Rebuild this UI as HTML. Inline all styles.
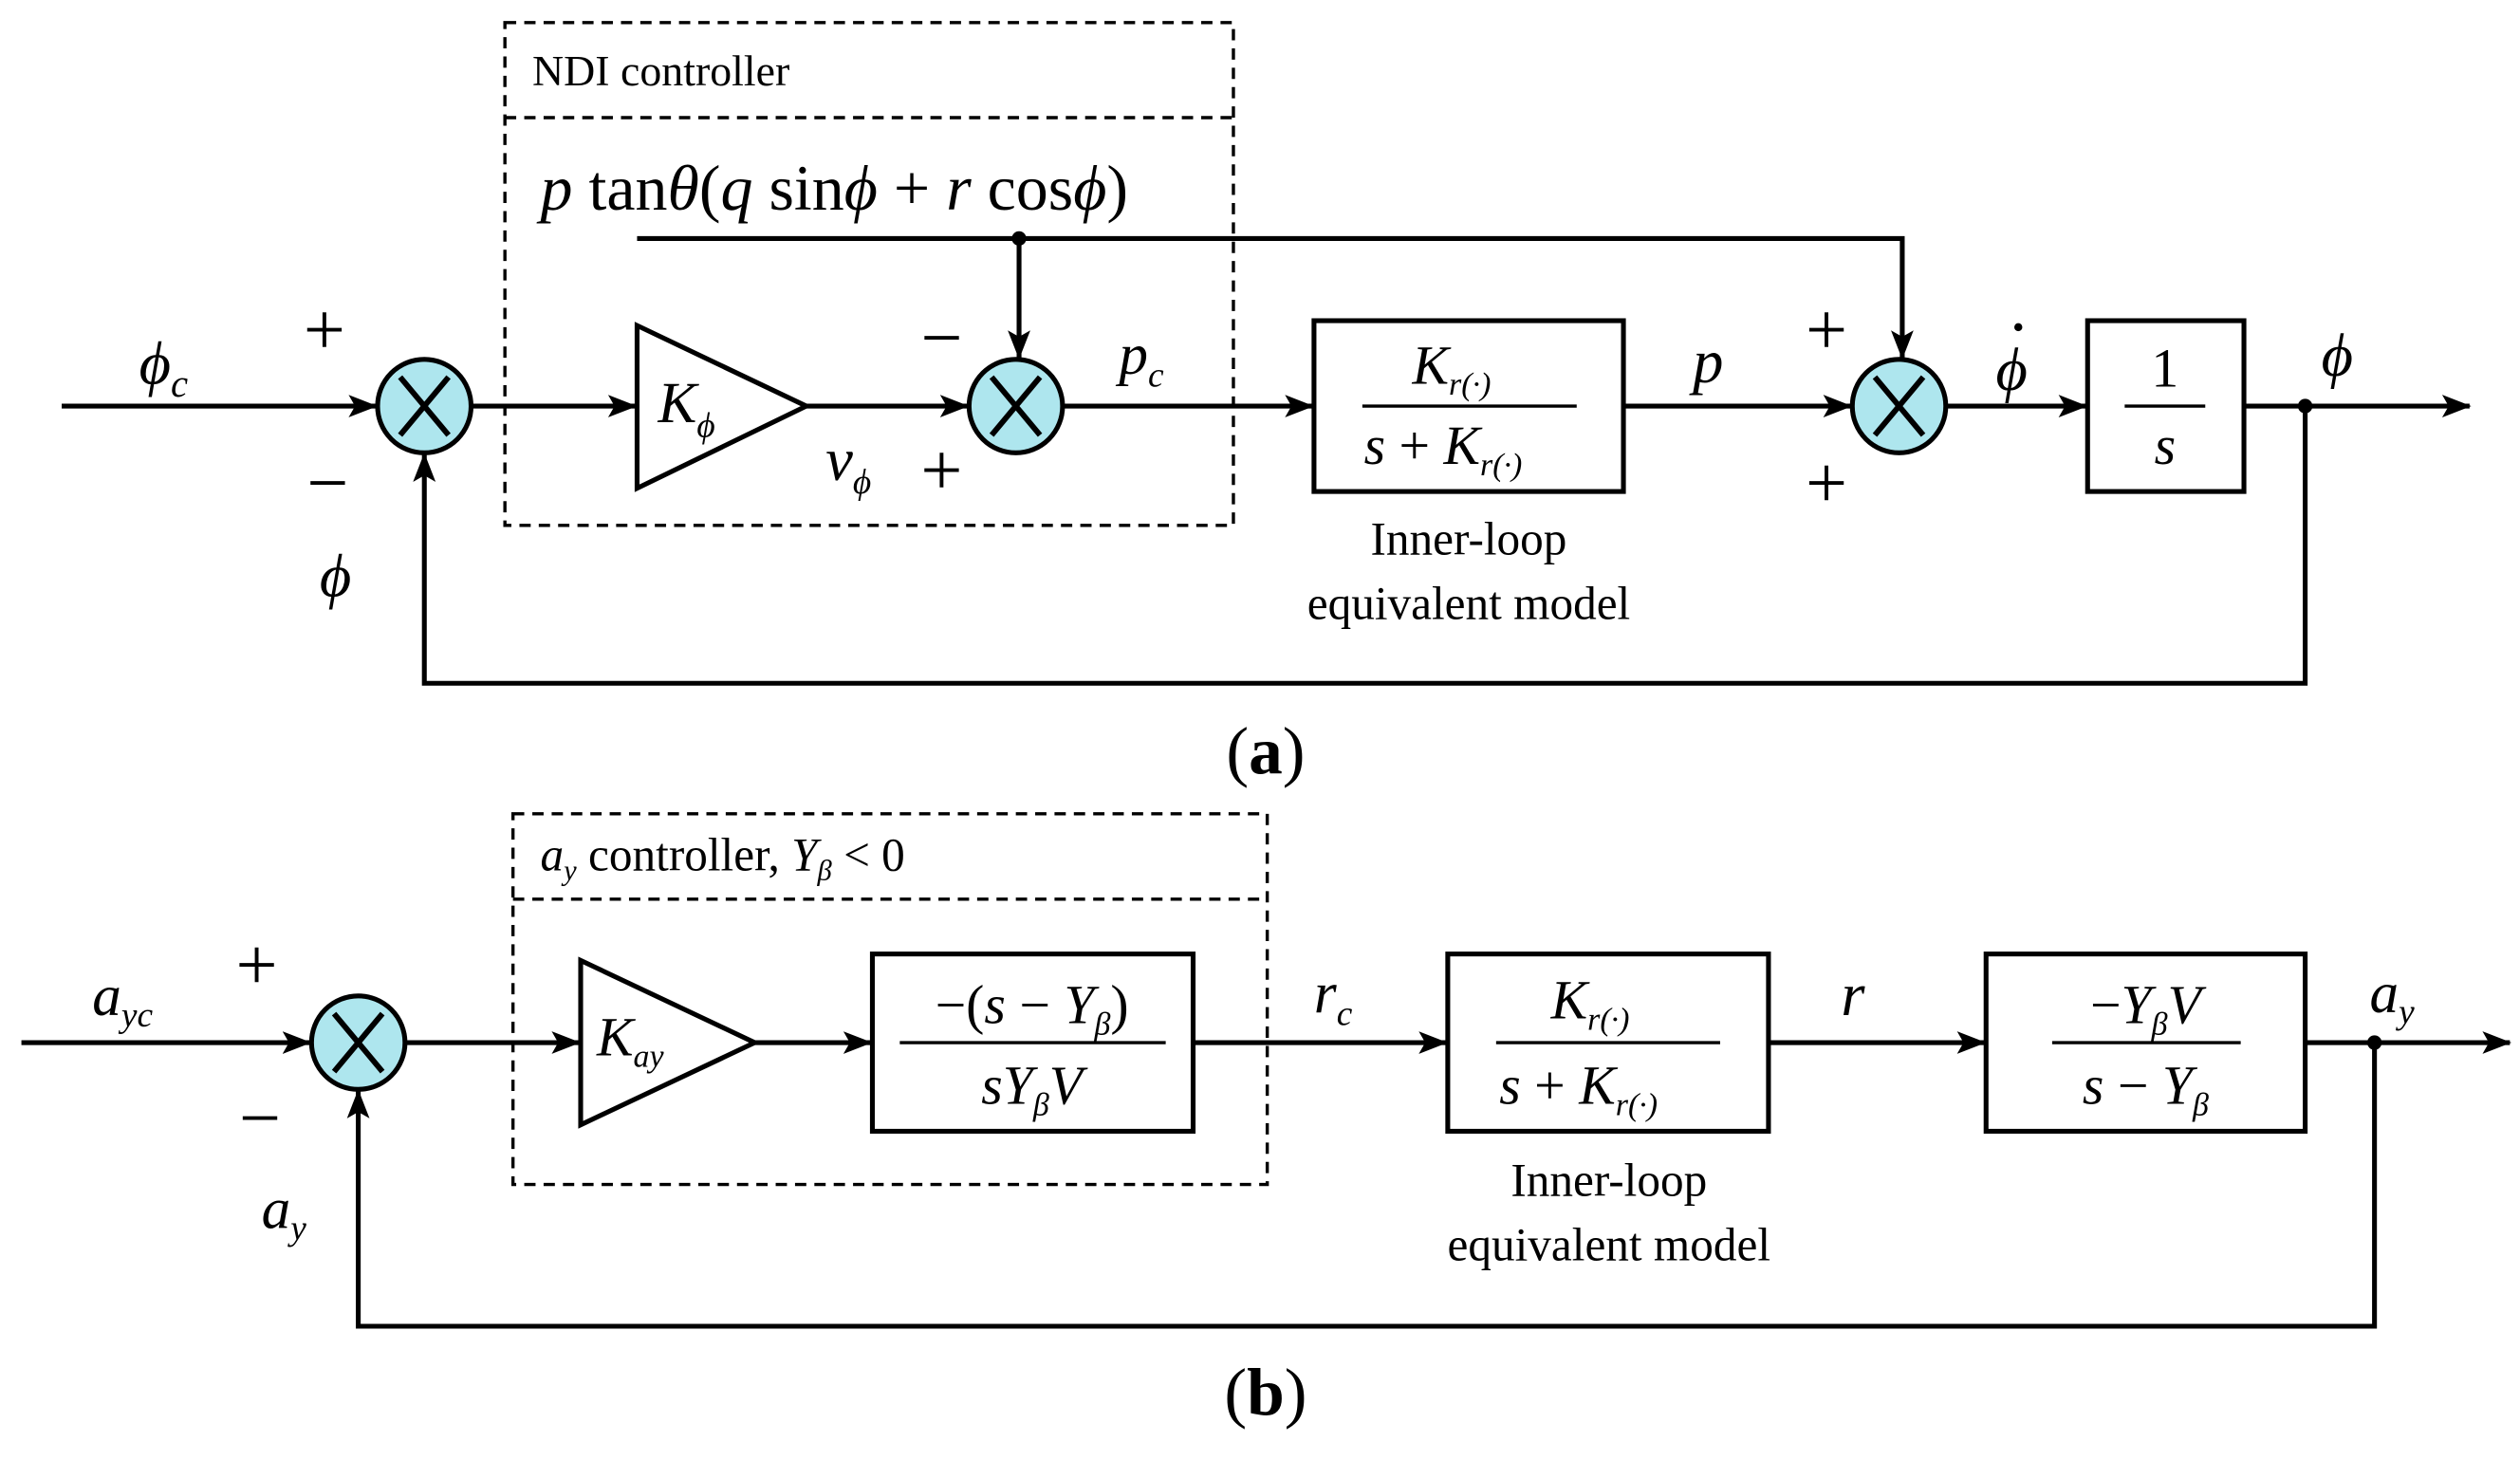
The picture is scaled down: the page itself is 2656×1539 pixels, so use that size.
<!DOCTYPE html>
<html><head><meta charset="utf-8"><style>
html,body{margin:0;padding:0;background:#fff}
svg{display:block}
text{font-family:"Liberation Serif",serif;fill:#000}
.m{font-style:italic}
</style></head><body>
<svg width="2656" height="1539" viewBox="0 0 1563 906" xmlns="http://www.w3.org/2000/svg">
<defs>
<marker id="a" markerWidth="18" markerHeight="14" refX="17" refY="7" orient="auto" markerUnits="userSpaceOnUse">
<path d="M0,0 L18,7 L0,14 L4,7 Z" fill="#000"/></marker>
<g id="sum"><circle r="29" fill="#aee6ee" stroke="#000" stroke-width="3"/><path d="M-15,-18 L15,18 M15,-18 L-15,18" stroke="#000" stroke-width="3.5"/></g>
</defs>
<g stroke="#000" stroke-width="3" fill="none">
<rect x="313" y="14" width="452" height="312" stroke-dasharray="7,5" stroke-width="2"/>
<line x1="313" y1="73" x2="765" y2="73" stroke-dasharray="7,5" stroke-width="2"/>
<line x1="38" y1="252" x2="233" y2="252" marker-end="url(#a)"/>
<line x1="292" y1="252" x2="394" y2="252" marker-end="url(#a)"/>
<path d="M395,202 L395,303 L500,252 Z"/>
<line x1="500" y1="252" x2="600" y2="252" marker-end="url(#a)"/>
<polyline points="395,148 1180,148 1180,222" marker-end="url(#a)"/>
<line x1="632" y1="148" x2="632" y2="222" marker-end="url(#a)"/>
<line x1="660" y1="252" x2="814" y2="252" marker-end="url(#a)"/>
<rect x="815" y="199" width="192" height="106"/>
<line x1="1007" y1="252" x2="1148" y2="252" marker-end="url(#a)"/>
<line x1="1207" y1="252" x2="1294" y2="252" marker-end="url(#a)"/>
<rect x="1295" y="199" width="97" height="106"/>
<line x1="1392" y1="252" x2="1532" y2="252" marker-end="url(#a)"/>
<polyline points="1430,252 1430,424 263,424 263,282" marker-end="url(#a)"/>
<rect x="318" y="505" width="468" height="230" stroke-dasharray="7,5" stroke-width="2"/>
<line x1="318" y1="558" x2="786" y2="558" stroke-dasharray="7,5" stroke-width="2"/>
<line x1="13" y1="647" x2="192" y2="647" marker-end="url(#a)"/>
<line x1="251" y1="647" x2="359" y2="647" marker-end="url(#a)"/>
<path d="M360,596 L360,698 L468,647 Z"/>
<line x1="468" y1="647" x2="540" y2="647" marker-end="url(#a)"/>
<rect x="541" y="592" width="199" height="110"/>
<line x1="740" y1="647" x2="897" y2="647" marker-end="url(#a)"/>
<rect x="898" y="592" width="199" height="110"/>
<line x1="1097" y1="647" x2="1231" y2="647" marker-end="url(#a)"/>
<rect x="1232" y="592" width="198" height="110"/>
<line x1="1430" y1="647" x2="1557" y2="647" marker-end="url(#a)"/>
<polyline points="1473,647 1473,823 222,823 222,677" marker-end="url(#a)"/>
<line x1="845" y1="252" x2="978" y2="252" stroke-width="2"/>
<line x1="1318" y1="252" x2="1368" y2="252" stroke-width="2"/>
<line x1="558" y1="647" x2="723" y2="647" stroke-width="2"/>
<line x1="928" y1="647" x2="1067" y2="647" stroke-width="2"/>
<line x1="1273" y1="647" x2="1390" y2="647" stroke-width="2"/>
</g>
<use href="#sum" x="263" y="252"/><use href="#sum" x="630" y="252"/><use href="#sum" x="1178" y="252"/>
<use href="#sum" x="222" y="647"/>
<circle cx="632" cy="148" r="4.5"/><circle cx="1430" cy="252" r="4.5"/><circle cx="1473" cy="647" r="4.5"/>
<text x="330" y="53" font-size="27">NDI controller</text>
<text x="335" y="130" font-size="40"><tspan class="m">p</tspan> tan<tspan class="m">θ</tspan>(<tspan class="m">q</tspan> sin<tspan class="m">ϕ</tspan> + <tspan class="m">r</tspan> cos<tspan class="m">ϕ</tspan>)</text>
<text x="86" y="238" font-size="38" class="m">ϕ<tspan font-size="24" dy="8">c</tspan></text>
<text x="188" y="220" font-size="46">+</text>
<text x="190" y="315" font-size="46">−</text>
<text x="198" y="370" font-size="38" class="m">ϕ</text>
<text x="408" y="262" font-size="36" class="m">K<tspan font-size="22" dy="9">ϕ</tspan></text>
<text x="512" y="298" font-size="38" class="m">ν<tspan font-size="22" dy="8">ϕ</tspan></text>
<text x="571" y="225" font-size="46">−</text>
<text x="571" y="307" font-size="46">+</text>
<text x="694" y="232" font-size="36" class="m">p<tspan font-size="22" dy="8">c</tspan></text>
<text x="876" y="238" font-size="34" class="m">K<tspan font-size="20" dy="7">r(·)</tspan></text>
<text x="846" y="288" font-size="34" class="m">s <tspan font-style="normal">+</tspan> K<tspan font-size="20" dy="7">r(·)</tspan></text>
<text x="911" y="344" font-size="29" text-anchor="middle">Inner-loop</text>
<text x="911" y="384" font-size="29" text-anchor="middle">equivalent  model</text>
<text x="1050" y="237" font-size="38" class="m">p</text>
<text x="1120" y="220" font-size="46">+</text>
<text x="1120" y="315" font-size="46">+</text>
<text x="1238" y="242" font-size="38" class="m">ϕ</text>
<circle cx="1252" cy="203" r="2.5"/>
<text x="1343" y="240" font-size="34" text-anchor="middle">1</text>
<text x="1343" y="288" font-size="34" text-anchor="middle" class="m">s</text>
<text x="1440" y="233" font-size="38" class="m">ϕ</text>
<text x="785" y="480" font-size="42" text-anchor="middle">(<tspan font-weight="bold">a</tspan>)</text>
<text x="335" y="540" font-size="29"><tspan class="m">a<tspan font-size="18" dy="6">y</tspan></tspan><tspan dy="-6"> controller, </tspan><tspan class="m">Y<tspan font-size="18" dy="6">β</tspan></tspan><tspan dy="-6"> &lt; 0</tspan></text>
<text x="57" y="630" font-size="36" class="m">a<tspan font-size="22" dy="7">yc</tspan></text>
<text x="146" y="614" font-size="46">+</text>
<text x="148" y="709" font-size="46">−</text>
<text x="162" y="762" font-size="36" class="m">a<tspan font-size="22" dy="7">y</tspan></text>
<text x="370" y="655" font-size="34" class="m">K<tspan font-size="20" dy="7">ay</tspan></text>
<text x="640" y="635" font-size="34" text-anchor="middle">−(<tspan class="m">s</tspan> − <tspan class="m">Y</tspan><tspan font-size="20" dy="7" class="m">β</tspan><tspan dy="-7">)</tspan></text>
<text x="640" y="685" font-size="34" text-anchor="middle" class="m">sY<tspan font-size="20" dy="7">β</tspan><tspan dy="-7">V</tspan></text>
<text x="815" y="628" font-size="36" class="m">r<tspan font-size="22" dy="8">c</tspan></text>
<text x="962" y="632" font-size="34" class="m">K<tspan font-size="20" dy="7">r(·)</tspan></text>
<text x="930" y="685" font-size="34" class="m">s <tspan font-style="normal">+</tspan> K<tspan font-size="20" dy="7">r(·)</tspan></text>
<text x="998" y="742" font-size="29" text-anchor="middle">Inner-loop</text>
<text x="998" y="782" font-size="29" text-anchor="middle">equivalent  model</text>
<text x="1142" y="630" font-size="38" class="m">r</text>
<text x="1331" y="635" font-size="34" text-anchor="middle">−<tspan class="m">Y</tspan><tspan font-size="20" dy="7" class="m">β</tspan><tspan dy="-7" class="m">V</tspan></text>
<text x="1331" y="685" font-size="34" text-anchor="middle"><tspan class="m">s</tspan> − <tspan class="m">Y</tspan><tspan font-size="20" dy="7" class="m">β</tspan></text>
<text x="1470" y="628" font-size="36" class="m">a<tspan font-size="22" dy="7">y</tspan></text>
<text x="785" y="878" font-size="42" text-anchor="middle">(<tspan font-weight="bold">b</tspan>)</text>
</svg>
</body></html>
